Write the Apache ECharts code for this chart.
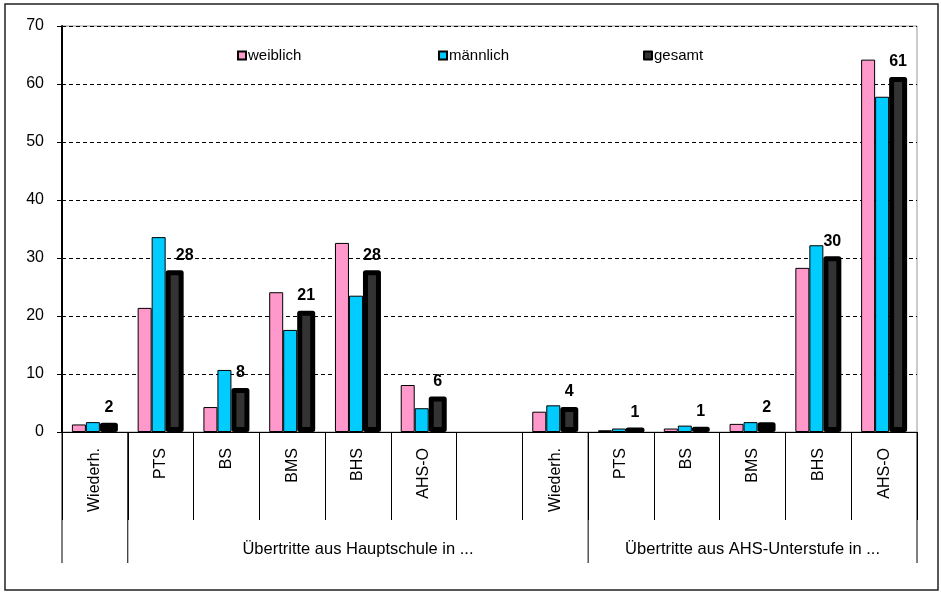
<!DOCTYPE html>
<html><head><meta charset="utf-8">
<script src="https://cdn.jsdelivr.net/npm/echarts@6/dist/echarts.min.js"></script>
<style>html,body{margin:0;padding:0;background:#fff}#chart{width:941px;height:592px}</style>
</head><body><div id="chart"></div>
<script>
// School transitions by destination, in percent
const categories = ['Wiederh.', 'PTS', 'BS', 'BMS', 'BHS', 'AHS-O', '', 'Wiederh.', 'PTS', 'BS', 'BMS', 'BHS', 'AHS-O'];
const weiblich  = [1.3, 21.4, 4.3, 24.1, 32.6, 8.1, null, 3.5, 0.3, 0.6, 1.4, 28.3, 64.2];
const maennlich = [1.7, 33.6, 10.7, 17.6, 23.5, 4.1, null, 4.6, 0.6, 1.1, 1.7, 32.2, 57.8];
const gesamt    = [1.6, 27.9, 7.6, 20.9, 27.9, 6.1, null, 4.3, 0.7, 0.9, 1.7, 30.3, 61.2];
const seriesNames = ['weiblich', 'männlich', 'gesamt'];
// groups of categories: label, first boundary, last boundary
const groupLabels = ['Übertritte aus Hauptschule in ...', 'Übertritte aus AHS-Unterstufe in ...'];
const groupFrom = [1, 8];
const groupTo = [8, 13];
const groupBoundaries = [0, 1, 8, 13];

const FONT = 'Liberation Sans, Arial, sans-serif';
const chart = echarts.init(document.getElementById('chart'));

const thinBar = color => ({ color: color, borderColor: '#000', borderWidth: 1 });

chart.setOption({
  animation: false,
  textStyle: { fontFamily: FONT, color: '#000' },
  grid: { left: 62, right: 24, top: 26, bottom: 160, show: true, borderColor: '#999', borderWidth: 1 },
  legend: [
    { data: [seriesNames[0]], left: 232, top: 43 },
    { data: [seriesNames[1]], left: 433, top: 43 },
    { data: [seriesNames[2]], left: 638, top: 43 }
  ].map(l => Object.assign(l, {
    icon: 'rect', itemWidth: 8, itemHeight: 8, itemGap: 2,
    textStyle: { fontSize: 15, color: '#000', fontFamily: FONT, padding: [0, 0, 0, -3] }
  })),
  xAxis: {
    type: 'category',
    data: categories,
    axisLine: { lineStyle: { color: '#000', width: 1 } },
    axisTick: { show: true, interval: 0, length: 88, alignWithLabel: false, lineStyle: { color: '#000', width: 1 } },
    axisLabel: { rotate: 90, interval: 0, margin: 16, fontSize: 16, color: '#000', fontFamily: FONT }
  },
  yAxis: {
    type: 'value',
    min: 0, max: 70, interval: 10,
    axisLine: { show: true, lineStyle: { color: '#000', width: 2 } },
    axisTick: { show: true, length: 5, lineStyle: { color: '#000' } },
    axisLabel: { fontSize: 16, margin: 18, color: '#000', fontFamily: FONT },
    splitLine: { lineStyle: { color: '#000', type: [4, 3], width: 1 } }
  },
  series: [
    { name: seriesNames[0], type: 'bar', data: weiblich, barWidth: 14, barGap: '0%', itemStyle: thinBar('#FF99CC') },
    { name: seriesNames[1], type: 'bar', data: maennlich, barWidth: 14, barGap: '0%', itemStyle: thinBar('#00CCFF') },
    {
      name: seriesNames[2], type: 'bar', barWidth: 18, barGap: '0%', z: 3,
      data: gesamt.map((v, i) => i === 1 ? { value: v, label: { offset: [10, 0] } } : v),
      itemStyle: { color: '#333333', borderColor: '#000', borderWidth: 5, borderJoin: 'round' },
      label: {
        show: true, position: 'top', distance: 7,
        fontSize: 16, fontWeight: 'bold', color: '#000', fontFamily: FONT,
        formatter: p => (p.value == null ? '' : Math.round(p.value))
      }
    }
  ]
});

// Group brackets under the category labels, placed from the axis scale
const c0 = chart.convertToPixel({ xAxisIndex: 0 }, 0);
const c1 = chart.convertToPixel({ xAxisIndex: 0 }, 1);
const band = c1 - c0;
const edge = i => c0 - band / 2 + i * band;
const yBase = chart.convertToPixel({ yAxisIndex: 0 }, 0);

const graphics = [
  { type: 'rect', shape: { x: 5, y: 4, width: 933, height: 586 }, style: { fill: 'none', stroke: '#222', lineWidth: 1.5 }, silent: true }
];
groupBoundaries.forEach(b => {
  graphics.push({ type: 'line', shape: { x1: edge(b), y1: yBase, x2: edge(b), y2: yBase + 131 }, style: { stroke: '#000', lineWidth: 1 }, silent: true });
});
groupLabels.forEach((t, k) => {
  graphics.push({
    type: 'text', x: (edge(groupFrom[k]) + edge(groupTo[k])) / 2, y: yBase + 117,
    style: { text: t, fontSize: 16.5, fontFamily: FONT, fill: '#000', align: 'center', verticalAlign: 'middle' },
    silent: true
  });
});
chart.setOption({ graphic: graphics });
</script>
</body></html>
